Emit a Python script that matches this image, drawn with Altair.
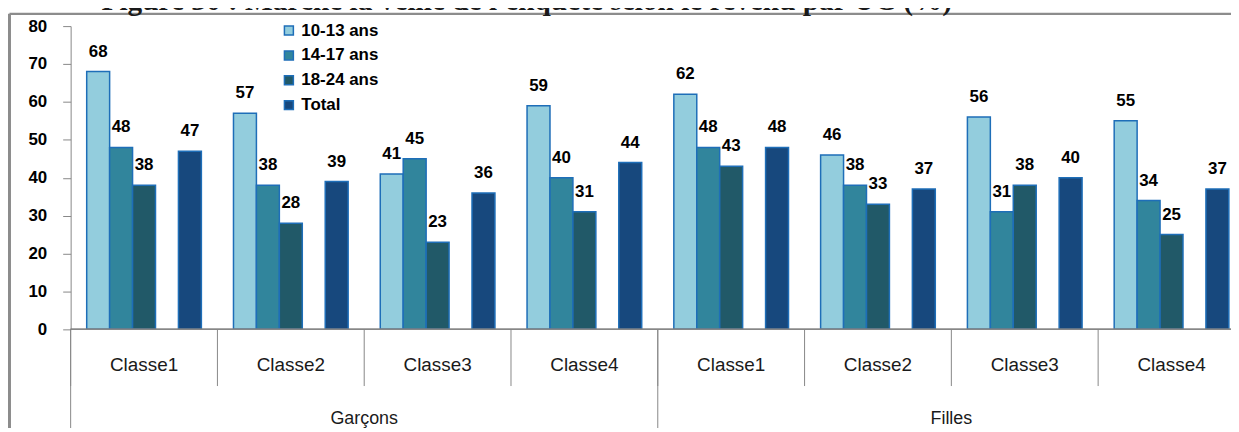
import altair as alt
import pandas as pd

title_text = "Figure 30 : Marche la veille de l'enquête selon le revenu par UC (%)"
genders = ["Garçons", "Filles"]
classes = ["Classe1", "Classe2", "Classe3", "Classe4"]
series = ["10-13 ans", "14-17 ans", "18-24 ans", "Total"]
slots = ["10-13 ans", "14-17 ans", "18-24 ans", "_gap", "Total"]
colors = ["#93CDDD", "#31859C", "#215968", "#17487D"]
y_ticks = [0, 10, 20, 30, 40, 50, 60, 70, 80]

# values per group (gender x class), in series order
v_1013 = [68, 57, 41, 59, 62, 46, 56, 55]
v_1417 = [48, 38, 45, 40, 48, 38, 31, 34]
v_1824 = [38, 28, 23, 31, 43, 33, 38, 25]
v_total = [47, 39, 36, 44, 48, 37, 40, 37]

grp_order = [f"{g}|{c}" for g in genders for c in classes]
rows = []
groups = []
for i, key in enumerate(grp_order):
    g, c = key.split("|")
    groups.append({"grp": key, "gender": g, "cls": c})
    for s, vals in zip(series, [v_1013, v_1417, v_1824, v_total]):
        rows.append({"grp": key, "gender": g, "cls": c, "series": s, "value": vals[i]})
df = pd.DataFrame(rows)
gdf = pd.DataFrame(groups)

font = "Liberation Sans"
gray = "#878787"
frame_gray = "#8C8C8C"

xscale = alt.Scale(domain=grp_order, range=[0, 1181], paddingInner=0, paddingOuter=0)
xoff = alt.XOffset("series:N", scale=alt.Scale(domain=slots, paddingInner=0, paddingOuter=0.7))
yscale = alt.Scale(domain=[0, 80], nice=False)
yaxis = alt.Axis(values=y_ticks, tickCount=9, tickSize=8, tickColor=gray,
                 domainColor=gray, grid=False, labelFont=font, labelFontSize=17,
                 labelFontWeight="bold", labelColor="#000000", labelPadding=16,
                 labelOverlap=False, title=None)

base = alt.Chart(df)

bars = base.mark_bar(stroke="#1E6EB8", strokeWidth=1.5).encode(
    x=alt.X("grp:N", scale=xscale, axis=None, sort=grp_order),
    xOffset=xoff,
    y=alt.Y("value:Q", scale=yscale, title=None, axis=yaxis),
    color=alt.Color("series:N", scale=alt.Scale(domain=series, range=colors),
                    legend=alt.Legend(orient="none", legendX=211, legendY=-4, title=None,
                                      symbolType="square", symbolSize=81,
                                      symbolStrokeColor="#1E6EB8", symbolStrokeWidth=1.5,
                                      labelFont=font, labelFontSize=17, labelFontWeight="bold",
                                      labelColor="#000000", rowPadding=7, labelOffset=4,
                                      padding=0)),
)

labels = base.mark_text(font=font, fontSize=17, fontWeight="bold", color="#000000",
                        baseline="alphabetic", dy=-15).encode(
    x=alt.X("grp:N", scale=xscale, axis=None, sort=grp_order),
    xOffset=xoff,
    y=alt.Y("value:Q", scale=yscale, axis=yaxis),
    text=alt.Text("value:Q"),
)

baseline = alt.Chart(gdf).mark_rule(color=gray, strokeWidth=1).encode(
    y=alt.datum(0, scale=yscale, axis=yaxis), x=alt.value(0), x2=alt.value(1240)
)

gchart = alt.Chart(gdf)
short_sep = gchart.mark_rule(color=gray, strokeWidth=1).encode(
    x=alt.X("grp:N", scale=xscale, bandPosition=0, sort=grp_order, axis=None),
    y=alt.value(305), y2=alt.value(362),
)
long_sep = gchart.transform_filter(alt.datum.cls == "Classe1").mark_rule(
    color=gray, strokeWidth=1).encode(
    x=alt.X("grp:N", scale=xscale, bandPosition=0, sort=grp_order, axis=None),
    y=alt.value(305), y2=alt.value(420),
)
cls_text = gchart.mark_text(font=font, fontSize=19, color="#1A1A1A", baseline="middle").encode(
    x=alt.X("grp:N", scale=xscale, sort=grp_order, axis=None),
    y=alt.value(341),
    text="cls:N",
)
gender_text = gchart.transform_filter(alt.datum.cls == "Classe3").mark_text(
    font=font, fontSize=18, color="#1A1A1A", baseline="middle").encode(
    x=alt.X("grp:N", scale=xscale, bandPosition=0, sort=grp_order, axis=None),
    y=alt.value(395),
    text="gender:N",
)

tdf = pd.DataFrame({"t": [title_text]})
title = alt.Chart(tdf).mark_text(font="Liberation Serif", fontSize=29.5, fontWeight="bold",
                                 color="#1A1A1A", align="left", baseline="alphabetic").encode(
    x=alt.value(31), y=alt.value(-16), text="t:N"
)
frame_top = alt.Chart(tdf).mark_rule(color=frame_gray, strokeWidth=2.5).encode(
    x=alt.value(-61.5), x2=alt.value(1240), y=alt.value(-12.3)
)
frame_left = alt.Chart(tdf).mark_rule(color=frame_gray, strokeWidth=3).encode(
    x=alt.value(-61.5), y=alt.value(-12.3), y2=alt.value(420)
)

chart = alt.layer(
    frame_top, frame_left, title, bars, labels, baseline, short_sep, long_sep, cls_text, gender_text
).properties(
    width=1167, height=305,
    autosize=alt.AutoSizeParams(type="none"),
    padding={"left": 63, "top": 17, "right": 0, "bottom": 98},
    background="white",
).configure_view(stroke=None)

chart.save("out.html", embed_options={"renderer": "svg", "actions": False})
